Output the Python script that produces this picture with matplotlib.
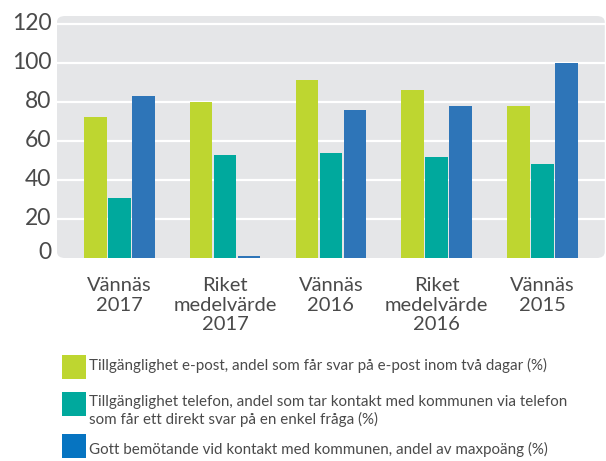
import matplotlib.pyplot as plt
from matplotlib.patches import FancyBboxPatch, Rectangle
from matplotlib.transforms import ScaledTranslation
import numpy as np

categories = ['Vännäs\n2017', 'Riket\nmedelvärde\n2017', 'Vännäs\n2016',
              'Riket\nmedelvärde\n2016', 'Vännäs\n2015']
epost = [72, 80, 91, 86, 78]
telefon = [31, 53, 54, 52, 48]
bemotande = [83, 1, 76, 78, 100]
yticks = [0, 20, 40, 60, 80, 100, 120]

legend_labels = [
    'Tillgänglighet e-post, andel som får svar på e-post inom två dagar (%)',
    'Tillgänglighet telefon, andel som tar kontakt med kommunen via telefon\nsom får ett direkt svar på en enkel fråga (%)',
    'Gott bemötande vid kontakt med kommunen, andel av maxpoäng (%)',
]

green = '#BED630'
teal = '#00A99D'
blue = '#2E75B8'
legend_blue = '#0674C1'
panel = '#E5E6E8'
txt = '#4a4a4a'
font = 'Lato'

fig = plt.figure(figsize=(6.06, 4.61), dpi=100)
ax = fig.add_axes([0.094, 0.4403, 0.904, 0.525])
ax.set_facecolor('none')

# rounded grey panel behind the bars
bg = FancyBboxPatch((0, 0), 1, 1, boxstyle='round,pad=0,rounding_size=0.015',
                    transform=ax.transAxes, facecolor=panel, edgecolor='none',
                    zorder=0, mutation_aspect=1.7)
ax.add_patch(bg)

x = np.arange(len(categories))
w = 0.215
off = 0.227
ax.bar(x - off, epost, w, color=green, zorder=3)
ax.bar(x, telefon, w, color=teal, zorder=3)
ax.bar(x + off, bemotande, w, color=blue, zorder=3)

ax.set_xlim(-0.59, 4.59)
ax.set_ylim(0, 124)
for t in yticks[1:]:
    ax.axhline(t, color='white', lw=1.6, zorder=1)

for s in ax.spines.values():
    s.set_visible(False)
ax.tick_params(length=0)
ax.set_yticks(yticks)
ax.set_yticklabels([str(t) for t in yticks], fontsize=16.5, color=txt,
                   family=font)
ax.tick_params(axis='y', pad=4)
# labels sit a little above their gridlines, the 0 more so
for i, lbl in enumerate(ax.get_yticklabels()):
    dy = 8 if i == 0 else 2
    lbl.set_transform(lbl.get_transform() +
                      ScaledTranslation(0, dy / 100.0, fig.dpi_scale_trans))
ax.set_xticks(x)
ax.set_xticklabels(categories, fontsize=14.5, color=txt, family=font,
                   linespacing=1.15)
ax.tick_params(axis='x', pad=14)

# legend drawn by hand
colors = [green, teal, legend_blue]
sq_tops = [355, 392, 434]
txt_centers = [365, 411, 449]
H = 461.0
W = 606.0
for c, top, yc, lab in zip(colors, sq_tops, txt_centers, legend_labels):
    fig.patches.append(Rectangle((62 / W, 1 - (top + 24) / H), 24 / W, 24 / H,
                                 transform=fig.transFigure, facecolor=c,
                                 edgecolor='none'))
    fig.text(89 / W, 1 - yc / H, lab, fontsize=10.9, color=txt,
             family=font, va='center', ha='left', linespacing=1.25)

fig.savefig('out.png', dpi=100)
